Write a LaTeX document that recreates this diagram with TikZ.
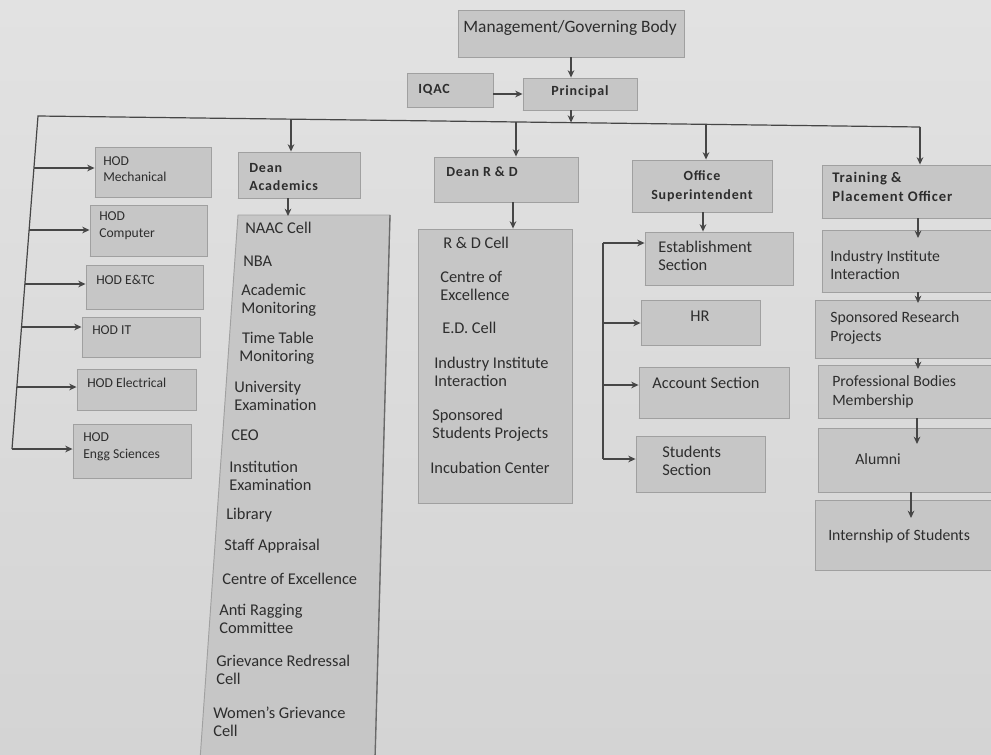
\documentclass[tikz,border=0pt]{standalone}
\usepackage{fontspec}
\setmainfont{Carlito}
\newfontfamily\spacedfont[LetterSpace=6.0]{Carlito}
\usetikzlibrary{fit,arrows.meta}
\definecolor{bgtop}{RGB}{226,226,226}
\definecolor{bgbot}{RGB}{212,212,212}
\definecolor{boxc}{RGB}{198,198,198}
\definecolor{edgec}{RGB}{160,160,160}
\definecolor{shadec}{RGB}{105,105,105}
\definecolor{linec}{RGB}{70,70,70}
\definecolor{txtc}{RGB}{45,45,45}
\tikzset{
  box/.style={draw=edgec, fill=boxc, line width=0.7pt, inner sep=0pt, rectangle,
    append after command={\pgfextra{\draw[shadec, line width=1pt] (\tikzlastnode.south west) -- (\tikzlastnode.south east);}}},
  arr/.style={draw=linec, line width=0.9pt, -{Stealth[length=5.5pt,width=5pt]}},
  wire/.style={draw=linec, line width=0.9pt},
  itm/.style={font=\fontsize{12.3}{13.5}\selectfont, text=txtc, anchor=west, align=left, inner sep=0pt},
  itmc/.style={itm, anchor=center, align=center},
  hod/.style={font=\fontsize{10.2}{12.5}\selectfont, text=txtc, anchor=west, align=left, inner sep=0pt},
  hd/.style={font=\spacedfont\bfseries\fontsize{10.5}{14}\selectfont, text=txtc, anchor=west, align=left, inner sep=0pt},
  tp/.style={font=\fontsize{11.8}{14}\selectfont, text=txtc, anchor=west, align=left, inner sep=0pt},
}
\begin{document}
\begin{tikzpicture}[x=0.75pt,y=-0.75pt]
\shade[top color=bgtop, bottom color=bgbot] (0,0) rectangle (991,754);
\useasboundingbox (0,0) rectangle (991,754);

% top
\node[box, fit={(458,10) (684,57)}] (mgmt) {};
\node[itmc, font=\fontsize{13}{14}\selectfont] (mgmtt) at (570,28) {Management/Governing Body};
\node[box, fit={(407,73) (493,107)}] (iqac) {};
\node[hd] (iqact) at (418,90) {IQAC};
\node[box, fit={(523,78) (637,110)}] (princ) {};
\node[hd, anchor=center] (princt) at (580,92) {Principal};
\draw[arr] (mgmt.south) -- (mgmt.south |- princ.north);
\draw[arr] (iqac.east |- princ.west) -- (princ.west);

% bus
\coordinate (busL) at (38,116);
\coordinate (busR) at (920,127);
\coordinate (jp) at (571,122.6);
\coordinate (ja) at (291,119.2);
\coordinate (jr) at (516,122);
\coordinate (jo) at (706,124.3);
\coordinate (lbot) at (12,449);
\draw[wire] (lbot) -- (busL) -- (busR);
\draw[arr] (princ.south -| jp) -- (jp);

% HODs
\node[box, fit={(95,147) (211,197)}] (mech) {};
\node[hod] at (103,169) {HOD\\Mechanical};
\node[box, fit={(90,205) (207,256)}] (comp) {};
\node[hod] at (99,226) {HOD\\Computer};
\node[box, fit={(86,265) (203,309)}] (entc) {};
\node[hod] at (96,280) {HOD E\&TC};
\node[box, fit={(82,317) (200,357)}] (it) {};
\node[hod] at (92,330) {HOD IT};
\node[box, fit={(77,369) (196,410)}] (elec) {};
\node[hod] at (87,383) {HOD Electrical};
\node[box, fit={(73,424) (191,478)}] (engg) {};
\node[hod] at (83,447) {HOD\\Engg Sciences};
\coordinate (h1) at (33.9,168);
\coordinate (h2) at (29.1,230);
\coordinate (h3) at (24.9,284);
\coordinate (h4) at (21.5,327);
\coordinate (h5) at (16.8,387);
\draw[arr] (h1) -- (h1 -| mech.west);
\draw[arr] (h2) -- (h2 -| comp.west);
\draw[arr] (h3) -- (h3 -| entc.west);
\draw[arr] (h4) -- (h4 -| it.west);
\draw[arr] (h5) -- (h5 -| elec.west);
\draw[arr] (lbot) -- (lbot -| engg.west);

% Dean Academics
\node[box, fit={(238,152) (360,198)}] (dacad) {};
\node[hd] at (249,177) {Dean\\Academics};
\draw[arr] (ja) -- (ja |- dacad.north);
\coordinate (acadtop) at (288,216);
\filldraw[draw=edgec, fill=boxc, line width=0.7pt] (238,215) -- (390,215) -- (375,760) -- (200,760) -- cycle;
\draw[shadec, line width=1pt] (390,215) -- (375,760);
\draw[arr] (dacad.south -| acadtop) -- (acadtop);
\node[itm] at (245,228) {NAAC Cell};
\node[itm] at (243,261) {NBA};
\node[itm] at (241,300) {Academic\\Monitoring};
\node[itm] at (239,348) {\,Time Table\\Monitoring};
\node[itm] at (234,396) {University\\Examination};
\node[itm] at (231,435) {CEO};
\node[itm] at (229,476) {Institution\\Examination};
\node[itm] at (226,515) {Library};
\node[itm] at (224,546) {Staff Appraisal};
\node[itm] at (222,579) {Centre of Excellence};
\node[itm] at (219,619) {Anti Ragging\\Committee};
\node[itm] at (216,670) {Grievance Redressal\\Cell};
\node[itm] at (213,722) {Women's Grievance\\Cell};

% Dean R & D
\node[box, fit={(434,157) (578,202)}] (drd) {};
\node[hd] at (446,172) {Dean R \& D};
\draw[arr] (jr) -- (jr |- drd.north);
\node[box, fit={(418,229) (572,503)}] (rdlist) {};
\coordinate (rdx) at (513,0);
\draw[arr] (drd.south -| rdx) -- (rdlist.north -| rdx);
\node[itm] at (443,243) {R \& D Cell};
\node[itm] at (440,286) {Centre of\\Excellence};
\node[itm] at (442,328) {E.D. Cell};
\node[itm] at (434,372) {Industry Institute\\Interaction};
\node[itm] at (432,425) {Sponsored\\Students Projects};
\node[itm] at (430,468) {Incubation Center};

% Office Superintendent
\node[box, fit={(632,160) (772,212)}] (off) {};
\node[hd, anchor=center, align=center] at (702,186) {Office\\Superintendent};
\draw[arr] (jo) -- (jo |- off.north);
\node[box, fit={(645,232) (793,285)}] (estab) {};
\node[itm] at (658,256) {Establishment\\Section};
\node[box, fit={(641,300) (760,345)}] (hr) {};
\node[itmc] at (700,316) {HR};
\node[box, fit={(639,367) (789,418)}] (acct) {};
\node[itmc] at (706,383) {Account Section};
\node[box, fit={(636,436) (765,492)}] (stud) {};
\node[itm] at (662,461) {Students\\Section};
\coordinate (ox) at (703,0);
\draw[arr] (off.south -| ox) -- (estab.north -| ox);
\coordinate (o1) at (603,243);
\coordinate (o2) at (603,323);
\coordinate (o3) at (603,385);
\coordinate (o4) at (603,459);
\draw[wire] (o1) -- (o4);
\draw[arr] (o1) -- (o1 -| estab.west);
\draw[arr] (o2) -- (o2 -| hr.west);
\draw[arr] (o3) -- (o3 -| acct.west);
\draw[arr] (o4) -- (o4 -| stud.west);

% Training & Placement
\node[box, fit={(822,165) (995,218)}] (tpo) {};
\node[hd, font=\spacedfont\bfseries\fontsize{11}{14}\selectfont] at (832,187) {Training \&\\Placement Officer};
\draw[arr] (busR) -- (busR |- tpo.north);
\node[box, fit={(822,230) (995,292)}] (iii) {};
\node[tp] at (830,265) {Industry Institute\\Interaction};
\node[box, fit={(815,300) (995,358)}] (srp) {};
\node[tp] at (830,328) {Sponsored Research\\Projects};
\node[box, fit={(818,365) (995,418)}] (pbm) {};
\node[tp] at (832,392) {Professional Bodies\\Membership};
\node[box, fit={(818,428) (995,492)}] (alum) {};
\node[tp, anchor=center] at (878,459) {Alumni};
\node[box, fit={(815,500) (995,570)}] (intern) {};
\node[tp] at (828,536) {Internship of Students};
\coordinate (e1) at (918,238);
\coordinate (e2) at (918,303);
\coordinate (e3) at (918,369);
\coordinate (e4) at (917,444);
\coordinate (e5) at (911,518);
\draw[arr] (tpo.south -| e1) -- (e1);
\draw[arr] (iii.south -| e2) -- (e2);
\draw[arr] (srp.south -| e3) -- (e3);
\draw[arr] (pbm.south -| e4) -- (e4);
\draw[arr] (alum.south -| e5) -- (e5);
\end{tikzpicture}
\end{document}
